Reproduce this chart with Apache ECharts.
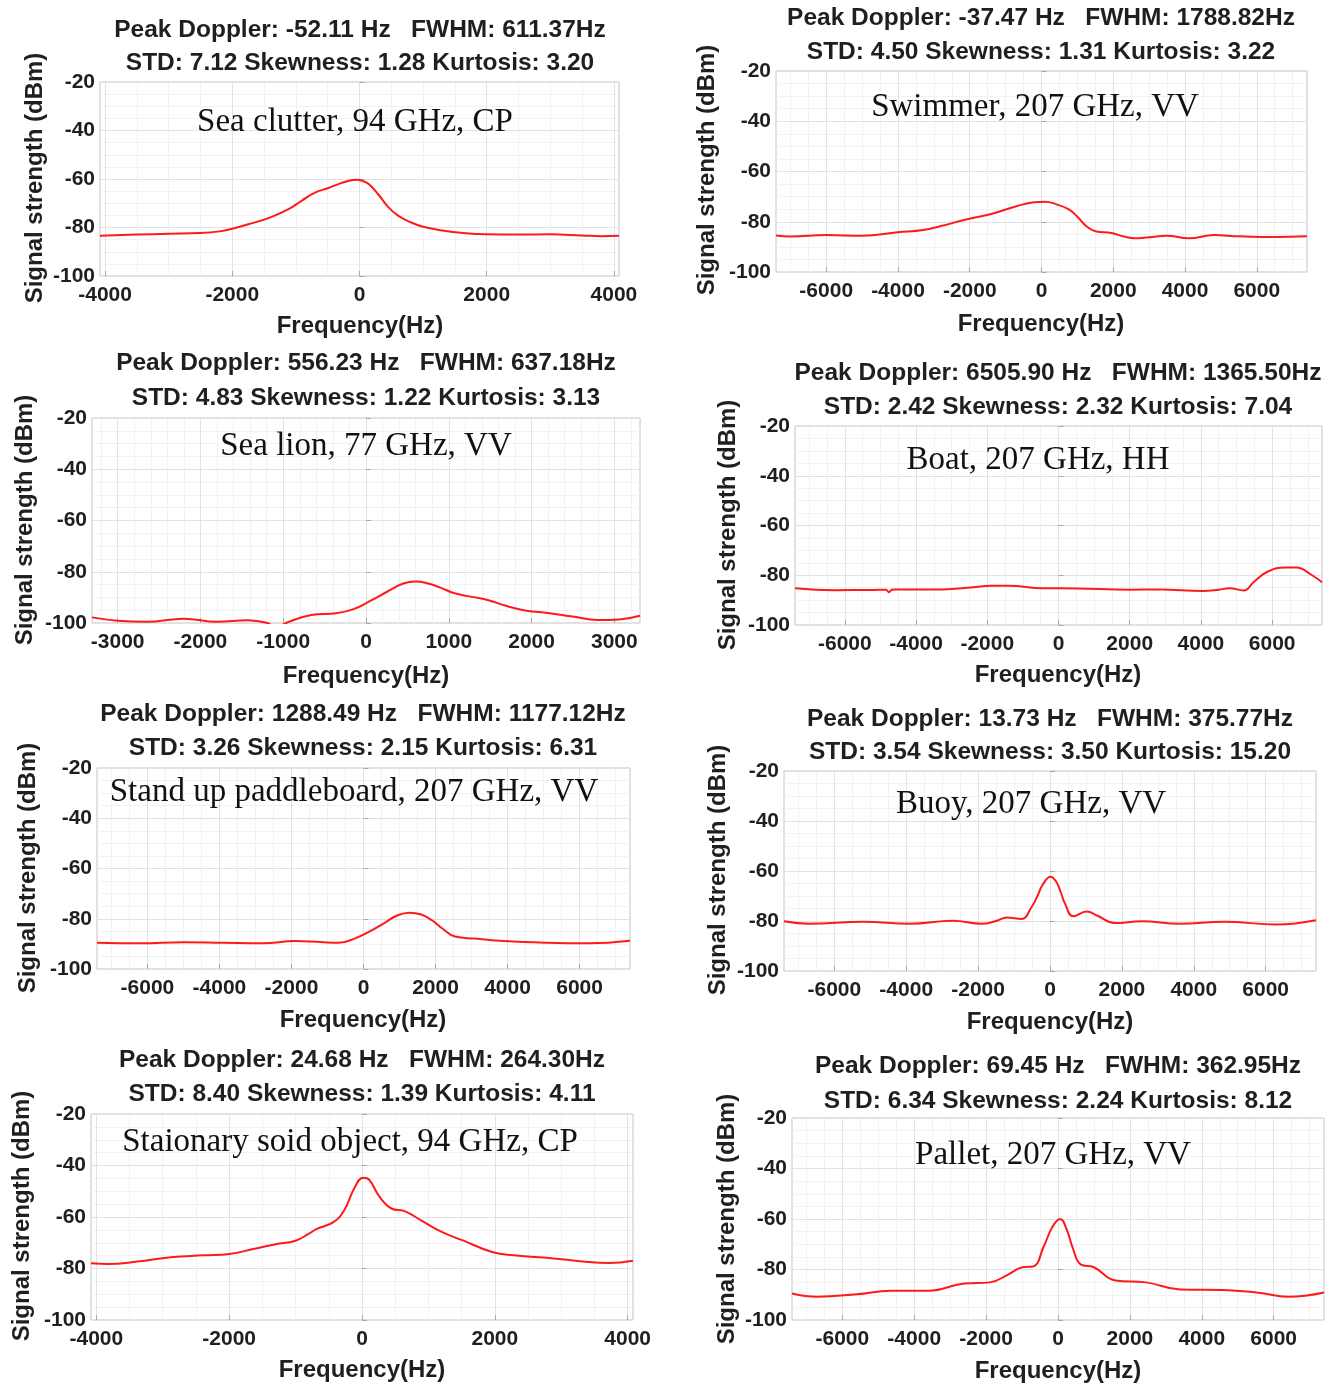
<!DOCTYPE html>
<html>
<head>
<meta charset="utf-8">
<title>Doppler spectra of maritime targets</title>
<script src="https://cdn.jsdelivr.net/npm/echarts@6/dist/echarts.min.js"></script>
<style>
  html, body { margin: 0; padding: 0; background: #ffffff; }
  #chart { width: 1340px; height: 1387px; }
</style>
</head>
<body>
<div id="chart"></div>
<script>
// ---- Spectrum data: [frequency (Hz), signal strength (dBm)] ----
const seaClutter = [[-4080,-83.4],[-3500,-82.9],[-3000,-82.6],[-2500,-82.3],[-2200,-81.6],[-2000,-80.5],[-1700,-78.3],[-1400,-75.8],[-1100,-72.2],[-900,-68.8],[-700,-65.6],[-500,-63.8],[-300,-61.8],[-150,-60.6],[-50,-60.3],[50,-60.8],[150,-62.2],[300,-66.5],[450,-71.5],[600,-75],[800,-77.8],[1000,-79.7],[1300,-81.2],[1600,-82.2],[2000,-82.8],[2500,-82.9],[3000,-82.8],[3500,-83.3],[3800,-83.6],[4080,-83.4]];
const swimmer = [[-7400,-85.5],[-7000,-85.9],[-6000,-85.3],[-5000,-85.6],[-4000,-84.2],[-3300,-83.3],[-2800,-81.7],[-2100,-79.1],[-1400,-76.9],[-700,-73.8],[-200,-72.2],[100,-72],[400,-73],[750,-75],[1000,-78],[1250,-81.8],[1500,-83.8],[1950,-84.5],[2300,-85.9],[2600,-86.6],[3000,-86.2],[3500,-85.6],[4100,-86.6],[4800,-85.3],[5500,-85.8],[6500,-86.1],[7400,-85.8]];
const seaLion = [[-3310,-97.8],[-3000,-99.1],[-2650,-99.5],[-2200,-98.3],[-1800,-99.5],[-1430,-98.9],[-1200,-99.9],[-1080,-101.8],[-960,-99.9],[-660,-96.9],[-360,-96.2],[-150,-94.6],[50,-91.4],[250,-87.9],[450,-84.6],[600,-83.8],[750,-84.6],[900,-86.2],[1070,-88.4],[1280,-89.8],[1480,-91.1],[1680,-93.2],[1940,-95.2],[2200,-96.1],[2500,-97.5],[2800,-98.8],[3060,-98.6],[3310,-97.2]];
const boat = [[-7400,-85.2],[-6300,-86],[-5200,-85.9],[-4850,-85.8],[-4760,-86.8],[-4680,-85.8],[-4600,-85.7],[-3250,-85.7],[-2400,-84.8],[-1900,-84.2],[-1400,-84.2],[-450,-85.2],[500,-85.3],[2000,-85.8],[2850,-85.7],[4050,-86.3],[4500,-85.8],[4800,-85.2],[5200,-86.1],[5500,-82.5],[5880,-78.5],[6370,-76.9],[6680,-76.9],[7100,-79.8],[7400,-82.8]];
const paddleboard = [[-7400,-89.6],[-6200,-89.8],[-5000,-89.4],[-3900,-89.6],[-2800,-89.8],[-1900,-88.9],[-1200,-89.3],[-700,-89.6],[-250,-87.9],[200,-84.8],[600,-81.5],[950,-78.6],[1280,-77.6],[1600,-78.3],[1900,-80.6],[2200,-84],[2540,-87.1],[3100,-87.9],[3900,-88.9],[5100,-89.6],[6250,-89.8],[7400,-88.8]];
const buoy = [[-7400,-80.1],[-6700,-81.1],[-5200,-80.3],[-3900,-81.1],[-2700,-79.9],[-1900,-81.1],[-1500,-80],[-1200,-78.6],[-800,-79.2],[-500,-74.1],[-350,-70],[-200,-65.4],[15,-62.3],[170,-64.2],[300,-68.5],[410,-72.8],[650,-78.1],[1020,-76.2],[1320,-77.9],[1800,-80.8],[2550,-80.1],[3600,-81.1],[4850,-80.3],[6300,-81.4],[7400,-79.7]];
const stationaryObject = [[-4080,-78],[-3820,-78.3],[-3380,-77.3],[-2880,-75.6],[-2380,-74.9],[-2000,-74.4],[-1620,-72.3],[-1300,-70.6],[-1000,-69.2],[-800,-66.5],[-680,-64.6],[-430,-62],[-270,-57.5],[-110,-48.5],[20,-44.8],[110,-45.6],[260,-52],[450,-56.8],[640,-57.7],[890,-61.3],[1200,-65.8],[1520,-69.1],[1960,-73.6],[2280,-74.9],[2780,-75.8],[3400,-77.5],[3720,-77.9],[4080,-77]];
const pallet = [[-7400,-89.5],[-6700,-90.8],[-5600,-89.8],[-4650,-88.4],[-3600,-88.4],[-2600,-85.5],[-1900,-85.1],[-1400,-82.1],[-990,-79.1],[-690,-78.8],[-400,-71],[-150,-63],[60,-60],[250,-64.5],[400,-71],[640,-78.1],[1000,-79.1],[1600,-84.4],[2450,-85.1],[3400,-87.9],[4600,-88.1],[5570,-89.2],[6400,-90.8],[7400,-89.1]];

// ---- Tick labels ----
const yTicks = [-100, -80, -60, -40, -20];
const xTicks4k = [-4000, -2000, 0, 2000, 4000];
const xTicks3k = [-3000, -2000, -1000, 0, 1000, 2000, 3000];
const xTicks6k = [-6000, -4000, -2000, 0, 2000, 4000, 6000];

// ---- Panel texts ----
const peakLines = [
  'Peak Doppler: -52.11 Hz   FWHM: 611.37Hz',
  'Peak Doppler: -37.47 Hz   FWHM: 1788.82Hz',
  'Peak Doppler: 556.23 Hz   FWHM: 637.18Hz',
  'Peak Doppler: 6505.90 Hz   FWHM: 1365.50Hz',
  'Peak Doppler: 1288.49 Hz   FWHM: 1177.12Hz',
  'Peak Doppler: 13.73 Hz   FWHM: 375.77Hz',
  'Peak Doppler: 24.68 Hz   FWHM: 264.30Hz',
  'Peak Doppler: 69.45 Hz   FWHM: 362.95Hz'
];
const statLines = [
  'STD: 7.12 Skewness: 1.28 Kurtosis: 3.20',
  'STD: 4.50 Skewness: 1.31 Kurtosis: 3.22',
  'STD: 4.83 Skewness: 1.22 Kurtosis: 3.13',
  'STD: 2.42 Skewness: 2.32 Kurtosis: 7.04',
  'STD: 3.26 Skewness: 2.15 Kurtosis: 6.31',
  'STD: 3.54 Skewness: 3.50 Kurtosis: 15.20',
  'STD: 8.40 Skewness: 1.39 Kurtosis: 4.11',
  'STD: 6.34 Skewness: 2.24 Kurtosis: 8.12'
];
const targetNames = [
  'Sea clutter, 94 GHz, CP',
  'Swimmer, 207 GHz, VV',
  'Sea lion, 77 GHz, VV',
  'Boat, 207 GHz, HH',
  'Stand up paddleboard, 207 GHz, VV',
  'Buoy, 207 GHz, VV',
  'Staionary soid object, 94 GHz, CP',
  'Pallet, 207 GHz, VV'
];
const xAxisName = 'Frequency(Hz)';
const yAxisName = 'Signal strength (dBm)';

const spectra = [seaClutter, swimmer, seaLion, boat, paddleboard, buoy, stationaryObject, pallet];
const xTickSets = [xTicks4k, xTicks6k, xTicks3k, xTicks6k, xTicks6k, xTicks6k, xTicks4k, xTicks6k];
const xHalfSpan = [4080, 7400, 3310, 7400, 7400, 7400, 4080, 7400];

// ---- Page layout for each panel (pixels) ----
const layout = [
  { l: 100, t: 82,   r: 619,  b: 276,  cx: 360,  t1: 30,   t2: 63,   ylx: 35,  yly: 178,  xly: 326,  ax: 355,  ay: 122 },
  { l: 776, t: 71,   r: 1307, b: 272,  cx: 1041, t1: 18,   t2: 52,   ylx: 707, yly: 170,  xly: 324,  ax: 1035, ay: 107 },
  { l: 92,  t: 418,  r: 640,  b: 623,  cx: 366,  t1: 363,  t2: 398,  ylx: 25,  yly: 520,  xly: 676,  ax: 366,  ay: 446 },
  { l: 795, t: 426,  r: 1322, b: 625,  cx: 1058, t1: 373,  t2: 407,  ylx: 728, yly: 525,  xly: 675,  ax: 1038, ay: 460 },
  { l: 97,  t: 768,  r: 630,  b: 969,  cx: 363,  t1: 714,  t2: 748,  ylx: 28,  yly: 868,  xly: 1020, ax: 354,  ay: 792 },
  { l: 784, t: 771,  r: 1316, b: 971,  cx: 1050, t1: 719,  t2: 752,  ylx: 718, yly: 870,  xly: 1022, ax: 1031, ay: 804 },
  { l: 91,  t: 1114, r: 633,  b: 1320, cx: 362,  t1: 1060, t2: 1094, ylx: 22,  yly: 1216, xly: 1370, ax: 350,  ay: 1142 },
  { l: 792, t: 1118, r: 1324, b: 1320, cx: 1058, t1: 1066, t2: 1101, ylx: 727, yly: 1219, xly: 1371, ax: 1053, ay: 1155 }
];

const SANS = '"Liberation Sans", Arial, Helvetica, sans-serif';
const SERIF = '"Liberation Serif", "Times New Roman", Times, serif';
const TEXT = '#1f1f1f';
const plain = v => String(v);

// Minor grid positions between the labelled ticks
function minorSteps(limit, step) {
  const out = [];
  for (let v = -Math.floor(limit / step) * step; v <= limit; v += step) out.push(v);
  return out;
}

const grids = [], xAxes = [], yAxes = [], series = [], graphics = [];

spectra.forEach((data, i) => {
  const L = layout[i];
  const span = xHalfSpan[i];
  const minorX = minorSteps(span, xTickSets[i] === xTicks3k ? 200 : 500);
  const minorY = minorSteps(100, 5).filter(v => v <= -20);

  grids.push({
    left: L.l, top: L.t, width: L.r - L.l, height: L.b - L.t,
    show: true, borderColor: '#c4c4c4', borderWidth: 1, backgroundColor: 'transparent'
  });

  // labelled frequency axis
  xAxes.push({
    gridIndex: i, type: 'value', min: -span, max: span, position: 'bottom', z: 3,
    axisLine: { show: false },
    axisTick: { show: true, inside: true, length: 5, customValues: xTickSets[i], lineStyle: { color: '#a8a8a8' } },
    axisLabel: { customValues: xTickSets[i], formatter: plain, fontFamily: SANS, fontSize: 21, fontWeight: 'bold', color: TEXT, margin: 9 },
    splitLine: { show: true, lineStyle: { color: '#e2e2e2', width: 1 } }
  });
  // fine frequency grid
  xAxes.push({
    gridIndex: i, type: 'value', min: -span, max: span, position: 'top', z: 1,
    axisLine: { show: false },
    axisTick: { show: false, customValues: minorX },
    axisLabel: { show: false },
    splitLine: { show: true, lineStyle: { color: '#f2f2f2', width: 1 } }
  });
  // labelled power axis
  yAxes.push({
    gridIndex: i, type: 'value', min: -100, max: -20, position: 'left', z: 3,
    axisLine: { show: false },
    axisTick: { show: true, inside: true, length: 5, customValues: yTicks, lineStyle: { color: '#a8a8a8' } },
    axisLabel: { customValues: yTicks, formatter: plain, fontFamily: SANS, fontSize: 21, fontWeight: 'bold', color: TEXT, margin: 5 },
    splitLine: { show: true, lineStyle: { color: '#e2e2e2', width: 1 } }
  });
  // fine power grid
  yAxes.push({
    gridIndex: i, type: 'value', min: -100, max: -20, position: 'right', z: 1,
    axisLine: { show: false },
    axisTick: { show: false, customValues: minorY },
    axisLabel: { show: false },
    splitLine: { show: true, lineStyle: { color: '#f2f2f2', width: 1 } }
  });

  series.push({
    type: 'line', xAxisIndex: 2 * i, yAxisIndex: 2 * i, data: data,
    showSymbol: false, smooth: 0.45, clip: true, z: 5,
    lineStyle: { color: '#ff1a1a', width: 2 }
  });

  const tStyle = { fontFamily: SANS, fontSize: 24.5, fontWeight: 'bold', fill: TEXT, align: 'center', verticalAlign: 'middle' };
  graphics.push(
    { type: 'text', x: L.cx, y: L.t1, style: Object.assign({ text: peakLines[i] }, tStyle) },
    { type: 'text', x: L.cx, y: L.t2, style: Object.assign({ text: statLines[i] }, tStyle) },
    { type: 'text', x: L.ax, y: L.ay, z: 10,
      style: { text: targetNames[i], fontFamily: SERIF, fontSize: 33, fill: '#111', align: 'center', verticalAlign: 'middle' } },
    { type: 'text', x: L.cx, y: L.xly,
      style: { text: xAxisName, fontFamily: SANS, fontSize: 24, fontWeight: 'bold', fill: TEXT, align: 'center', verticalAlign: 'middle' } },
    { type: 'text', x: L.ylx, y: L.yly, rotation: Math.PI / 2,
      style: { text: yAxisName, fontFamily: SANS, fontSize: 24, fontWeight: 'bold', fill: TEXT, align: 'center', verticalAlign: 'middle' } }
  );
});

const chart = echarts.init(document.getElementById('chart'), null, { renderer: 'canvas' });
chart.setOption({
  animation: false,
  backgroundColor: '#ffffff',
  grid: grids,
  xAxis: xAxes,
  yAxis: yAxes,
  series: series,
  graphic: graphics
});
</script>
</body>
</html>
